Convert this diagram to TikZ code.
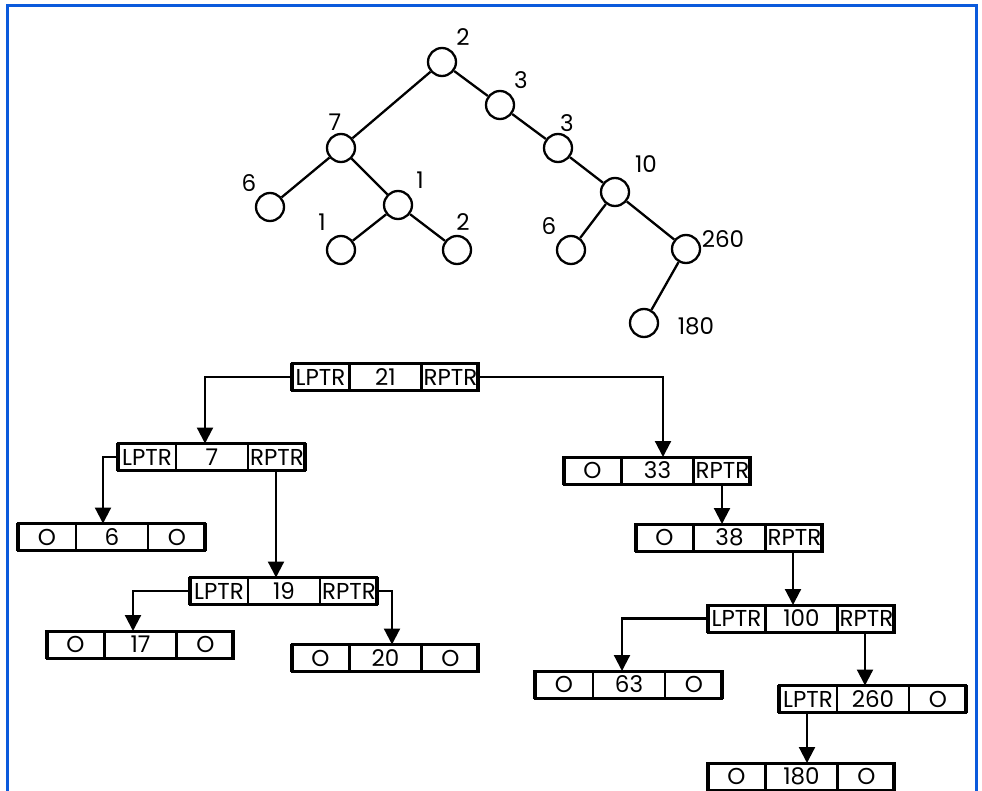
\documentclass[tikz,border=0pt]{standalone}
\usepackage{fontspec}
\setmainfont{Poppins}
\usetikzlibrary{arrows.meta,calc}
\definecolor{frameblue}{RGB}{10,90,220}
\tikzset{
  tnode/.style={circle, draw, line width=2.3pt, minimum size=28pt, inner sep=0pt},
  tedge/.style={line width=2.3pt},
  tlab/.style={font=\fontsize{23}{25}\selectfont, inner sep=0pt},
  recbox/.style={draw, line width=1.4pt, minimum width=189pt, minimum height=27pt, inner sep=0pt, outer sep=0pt},
  rtext/.style={font=\fontsize{23}{25}\selectfont, inner sep=0pt, text depth=0pt},
  conn/.style={line width=2.2pt, -{Triangle[length=16pt,width=16pt]}}
}
\newcommand{\recordbox}[6]{%
  \node[recbox] (#1) at (#2,#3) {};
  \draw[line width=3pt] (#1.north west) -- (#1.north east);
  \draw[line width=3pt] (#1.south west) -- (#1.south east);
  \draw[line width=2.2pt] ($(#1.north west)+(2,0)$) -- ($(#1.south west)+(2,0)$);
  \draw[line width=2.2pt] ($(#1.north east)+(-2,0)$) -- ($(#1.south east)+(-2,0)$);
  \draw[line width=2.2pt] ($(#1.north west)+(59,0)$) -- ($(#1.south west)+(59,0)$);
  \draw[line width=2.2pt] ($(#1.north west)+(131,0)$) -- ($(#1.south west)+(131,0)$);
  \node[rtext] (#1a) at ($(#1.west)+(30,0)$) {#4};
  \node[rtext] (#1b) at ($(#1.west)+(95,0)$) {#5};
  \node[rtext] (#1c) at ($(#1.west)+(160,0)$) {#6};
}
\begin{document}
\begin{tikzpicture}[x=1pt,y=-1pt]
\useasboundingbox (0,0) rectangle (982,791);
\fill[white] (0,0) rectangle (982,791);
\draw[frameblue,line width=3pt] (7,830) -- (7,6) -- (976,6) -- (976,830);

% tree
\node[tnode] (t2) at (442,62) {};
\node[tnode] (t3a) at (500,105) {};
\node[tnode] (t3b) at (558,148) {};
\node[tnode] (t10) at (615,192) {};
\node[tnode] (t260) at (686,249) {};
\node[tnode] (t180) at (644,323) {};
\node[tnode] (t6r) at (571,250) {};
\node[tnode] (t7) at (341,148) {};
\node[tnode] (t6l) at (270,207) {};
\node[tnode] (t1) at (398,205) {};
\node[tnode] (t1l) at (341,250) {};
\node[tnode] (t2l) at (457,250) {};

\draw[tedge] (t2) -- (t7);
\draw[tedge] (t2) -- (t3a);
\draw[tedge] (t3a) -- (t3b);
\draw[tedge] (t3b) -- (t10);
\draw[tedge] (t10) -- (t6r);
\draw[tedge] (t10) -- (t260);
\draw[tedge] (t260) -- (t180);
\draw[tedge] (t7) -- (t6l);
\draw[tedge] (t7) -- (t1);
\draw[tedge] (t1) -- (t1l);
\draw[tedge] (t1) -- (t2l);

\node[tlab] (l2) at (463,37) {2};
\node[tlab] (l3a) at (521,80) {3};
\node[tlab] (l3b) at (567,123) {3};
\node[tlab] (l10) at (646,164) {10};
\node[tlab] (l260) at (723,239) {260};
\node[tlab] (l180) at (696,326) {180};
\node[tlab] (l6r) at (549,226) {6};
\node[tlab] (l7) at (335,122) {7};
\node[tlab] (l6l) at (249,183) {6};
\node[tlab] (l1) at (420,180) {1};
\node[tlab] (l1l) at (322,222) {1};
\node[tlab] (l2l) at (463,222) {2};

% records
\recordbox{r21}{385}{377}{LPTR}{21}{RPTR}
\recordbox{r7}{211.5}{457}{LPTR}{7}{RPTR}
\recordbox{r6}{111.5}{537}{O}{6}{O}
\recordbox{r19}{283.5}{591}{LPTR}{19}{RPTR}
\recordbox{r17}{140}{644.5}{O}{17}{O}
\recordbox{r20}{385}{658}{O}{20}{O}
\recordbox{r33}{657}{470.5}{O}{33}{RPTR}
\recordbox{r38}{729}{537.5}{O}{38}{RPTR}
\recordbox{r100}{801}{618.5}{LPTR}{100}{RPTR}
\recordbox{r63}{628.5}{684.5}{O}{63}{O}
\recordbox{r260}{872.5}{699}{LPTR}{260}{O}
\recordbox{r180}{801}{776.5}{O}{180}{O}

\draw[conn] (r21.west) -| ([xshift=-6.5pt]r7.north);
\draw[conn] (r21.east) -| ([xshift=6pt]r33.north);
\draw[conn] (r7.west) -| ([xshift=-8.5pt]r6.north);
\draw[conn] ([xshift=64.5pt]r7.south) -- ([xshift=-7.5pt]r19.north);
\draw[conn] (r19.west) -| ([xshift=-7pt]r17.north);
\draw[conn] (r19.east) -| ([xshift=7pt]r20.north);
\draw[conn] ([xshift=65pt]r33.south) -- ([xshift=-7pt]r38.north);
\draw[conn] ([xshift=64pt]r38.south) -- ([xshift=-8pt]r100.north);
\draw[conn] (r100.west) -| ([xshift=-6.5pt]r63.north);
\draw[conn] ([xshift=64pt]r100.south) -- ([xshift=-7.5pt]r260.north);
\draw[conn] ([xshift=-65.5pt]r260.south) -- ([xshift=6pt]r180.north);
\end{tikzpicture}
\end{document}
